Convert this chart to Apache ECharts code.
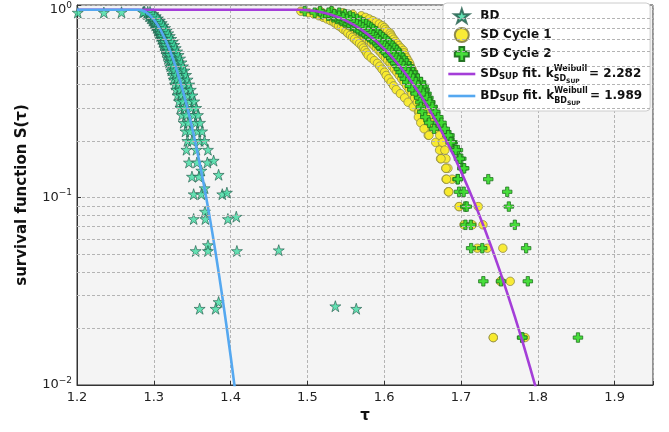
<!DOCTYPE html>
<html><head><meta charset="utf-8">
<script src="https://cdn.jsdelivr.net/npm/echarts@6/dist/echarts.min.js"></script>
<style>html,body{margin:0;padding:0;background:#fff}#c{width:669px;height:432px}</style>
</head><body><div id="c"></div>
<script>
// ---------- data ----------
const xTicks = [1.2, 1.3, 1.4, 1.5, 1.6, 1.7, 1.8, 1.9];
const yMinorLines = [0.02,0.03,0.04,0.05,0.06,0.07,0.08,0.09,0.2,0.3,0.4,0.5,0.6,0.7,0.8,0.9];

// BD (stars): survival levels and tau of four overlapping runs
const bdLevels = [0.975,0.95,0.925,0.9,0.875,0.85,0.825,0.8,0.775,0.75,0.725,0.7,0.675,0.65,0.625,0.6,0.575,0.55,0.525,0.5,0.475,0.45,0.425,0.4,0.375,0.35,0.325,0.3,0.275,0.25,0.225,0.2];
const bdRunA = [1.2871,1.2907,1.2936,1.2959,1.2981,1.3000,1.3018,1.3035,1.3051,1.3067,1.3082,1.3097,1.3112,1.3126,1.3141,1.3155,1.3170,1.3184,1.3199,1.3213,1.3228,1.3244,1.3259,1.3276,1.3292,1.3309,1.3328,1.3347,1.3367,1.3389,1.3412,1.3437];
const bdRunB = [1.2881,1.2919,1.2949,1.2974,1.2997,1.3018,1.3037,1.3056,1.3074,1.3091,1.3108,1.3124,1.3141,1.3157,1.3173,1.3189,1.3205,1.3221,1.3237,1.3253,1.3270,1.3287,1.3304,1.3322,1.3340,1.3359,1.3379,1.3400,1.3421,1.3445,1.3469,1.3496];
const bdRunC = [1.2921,1.2961,1.2993,1.3020,1.3045,1.3068,1.3089,1.3110,1.3130,1.3149,1.3168,1.3186,1.3205,1.3223,1.3241,1.3259,1.3277,1.3295,1.3313,1.3331,1.3350,1.3369,1.3388,1.3408,1.3428,1.3449,1.3471,1.3494,1.3517,1.3543,1.3569,1.3598];
const bdRunD = [1.2951,1.2992,1.3025,1.3053,1.3079,1.3103,1.3125,1.3147,1.3168,1.3188,1.3208,1.3227,1.3247,1.3266,1.3285,1.3304,1.3323,1.3342,1.3361,1.3380,1.3400,1.3420,1.3440,1.3461,1.3482,1.3504,1.3527,1.3551,1.3575,1.3602,1.3629,1.3659];
const bdExtraTau = [1.201,1.235,1.258,1.286,1.3425,1.3555,1.3705,1.3458,1.3562,1.3697,1.3779,1.3619,1.3497,1.3588,1.3844,1.3662,1.3519,1.3619,1.3892,1.3952,1.3666,1.3519,1.3671,1.3965,1.4074,1.3705,1.3545,1.3705,1.4082,1.4627,1.3844,1.3597,1.3805,1.5364,1.5636];
const bdExtraS   = [0.966,0.966,0.970,0.970,0.1795,0.1795,0.1795,0.1535,0.1535,0.1535,0.157,0.139,0.129,0.129,0.132,0.112,0.104,0.104,0.104,0.106,0.084,0.0767,0.0767,0.0767,0.0789,0.0557,0.0518,0.0518,0.0518,0.0523,0.0277,0.0255,0.0255,0.0263,0.0255];

// SD: survival levels shared by the runs
const sdLevels = [0.9821,0.9643,0.9464,0.9286,0.9107,0.8929,0.875,0.8571,0.8393,0.8214,0.8036,0.7857,0.7679,0.75,0.7321,0.7143,0.6964,0.6786,0.6607,0.6429,0.625,0.6071,0.5893,0.5714,0.5536,0.5357,0.5179,0.5,0.4821,0.4643,0.4464,0.4286,0.4107,0.3929,0.375,0.3571,0.3393,0.3214,0.3036,0.2857,0.2679,0.25,0.2321,0.2143,0.1964,0.1786,0.1607,0.1429,0.125,0.1071,0.0893,0.0714,0.0536,0.0357,0.0179];
// SD Cycle 1 (yellow circles)
const c1RunA = [1.4915,1.5015,1.5089,1.5152,1.5207,1.5256,1.5302,1.5345,1.5376,1.5405,1.5442,1.5468,1.5503,1.5527,1.5560,1.5588,1.5615,1.5646,1.5678,1.5709,1.5729,1.5750,1.5770,1.5791,1.5831,1.5871,1.5912,1.5943,1.5973,1.6005,1.6026,1.6058,1.6090,1.6123,1.6156,1.6211,1.6266,1.6311,1.6378,1.6446,1.6495,1.6526,1.6559,1.6573,1.6711,1.6741,1.6734,1.6802,1.6805,1.6835,1.6975,1.7038,1.7212,1.7516,1.7420];
const c1RunB = [1.5315,1.5465,1.5589,1.5702,1.5757,1.5806,1.5852,1.5895,1.5936,1.5975,1.6002,1.6018,1.6043,1.6077,1.6090,1.6103,1.6125,1.6146,1.6168,1.6189,1.6219,1.6250,1.6260,1.6271,1.6291,1.6311,1.6332,1.6343,1.6363,1.6380,1.6396,1.6408,1.6430,1.6443,1.6456,1.6481,1.6496,1.6481,1.6468,1.6456,1.6445,1.6476,1.6519,1.6583,1.6671,1.6721,1.6804,1.6830,1.6885,1.6840,1.7225,1.7148,1.7342,1.7641,1.7835];
const c1RunC = [1.5165,1.5195,1.5259,1.5312,1.5357,1.5396,1.5437,1.5475,1.5511,1.5547,1.5582,1.5618,1.5653,1.5687,1.5720,1.5748,1.5780,1.5811,1.5838,1.5869,1.5899,1.5930,1.5960,1.5986,1.6016,1.6046,1.6077,1.6103,1.6133,1.6165,1.6196,1.6228,1.6260,1.6293,1.6326,1.6361,1.6396,1.6431,1.6478,1.6526,1.6575,1.6626,1.6679,1.6723,1.6760,1.6790,1.6740,1.6805,1.6812,1.6840,1.6975,1.7286,1.7545,1.7516,1.7420];
// SD Cycle 2 (green plus)
const c2RunA = [1.4965,1.5095,1.5189,1.5272,1.5337,1.5386,1.5442,1.5485,1.5536,1.5575,1.5622,1.5658,1.5693,1.5737,1.5770,1.5803,1.5835,1.5876,1.5908,1.5929,1.5959,1.6000,1.6020,1.6051,1.6091,1.6111,1.6142,1.6173,1.6193,1.6215,1.6246,1.6268,1.6300,1.6333,1.6366,1.6411,1.6456,1.6471,1.6478,1.6496,1.6535,1.6586,1.6649,1.6823,1.6891,1.6931,1.6974,1.7017,1.6955,1.6975,1.7055,1.7058,1.7132,1.7291,1.7795];
const c2RunB = [1.5315,1.5415,1.5489,1.5552,1.5597,1.5646,1.5692,1.5725,1.5766,1.5800,1.5832,1.5858,1.5893,1.5917,1.5950,1.5983,1.6015,1.6046,1.6078,1.6109,1.6134,1.6165,1.6190,1.6211,1.6241,1.6261,1.6292,1.6323,1.6343,1.6375,1.6396,1.6438,1.6480,1.6513,1.6526,1.6551,1.6576,1.6601,1.6628,1.6656,1.6689,1.6701,1.6769,1.6850,1.6881,1.6960,1.7004,1.7032,1.6960,1.7035,1.7075,1.7128,1.7277,1.7521,1.7800];
const c2RunC = [1.5165,1.5275,1.5349,1.5412,1.5467,1.5516,1.5562,1.5605,1.5646,1.5685,1.5722,1.5758,1.5793,1.5827,1.5860,1.5893,1.5915,1.5946,1.5978,1.6009,1.6039,1.6070,1.6100,1.6131,1.6161,1.6191,1.6222,1.6253,1.6283,1.6315,1.6346,1.6378,1.6410,1.6443,1.6476,1.6511,1.6556,1.6591,1.6628,1.6666,1.6705,1.6746,1.6789,1.6833,1.6865,1.6931,1.6984,1.7042,1.7355,1.7602,1.7623,1.7701,1.7848,1.7870,1.8523];

// Weibull fit curves
const sdFitTau = [1.2,1.484,1.49,1.50,1.51,1.52,1.53,1.54,1.55,1.56,1.57,1.58,1.59,1.60,1.61,1.62,1.63,1.64,1.65,1.66,1.67,1.68,1.69,1.70,1.71,1.72,1.73,1.74,1.75,1.76,1.77,1.78,1.79,1.80,1.81];
const sdFitS   = [1,1,0.9994,0.9948,0.9843,0.9673,0.9436,0.9129,0.8758,0.8329,0.7847,0.7322,0.6765,0.6188,0.5601,0.5015,0.4442,0.3891,0.3370,0.2885,0.2441,0.2041,0.1686,0.1376,0.1109,0.0882,0.0693,0.0538,0.0412,0.0311,0.0232,0.01706,0.01239,0.00886,0.00625];
const bdFitTau = [1.2,1.28,1.285,1.29,1.295,1.30,1.305,1.31,1.315,1.32,1.325,1.33,1.335,1.34,1.345,1.35,1.355,1.36,1.365,1.37,1.375,1.38,1.385,1.39,1.395,1.40,1.405,1.41];
const bdFitS   = [1,1,0.9924,0.970,0.9343,0.8867,0.829,0.7638,0.6934,0.6203,0.5468,0.4750,0.4066,0.3431,0.2853,0.2337,0.1888,0.1502,0.1178,0.0910,0.0694,0.0521,0.0385,0.0281,0.0202,0.01432,0.00999,0.00687];

const names = ['BD','SD Cycle 1','SD Cycle 2','SD fit','BD fit'];

// ---------- build ----------
const zip = (xs, ys) => xs.map((x, i) => [x, ys[i]]);
const bdData = [].concat(zip(bdRunA, bdLevels), zip(bdRunB, bdLevels), zip(bdRunC, bdLevels), zip(bdRunD, bdLevels), zip(bdExtraTau, bdExtraS));
const c1Data = [].concat(zip(c1RunA, sdLevels), zip(c1RunB, sdLevels), zip(c1RunC, sdLevels));
const c2Data = [].concat(zip(c2RunA, sdLevels), zip(c2RunB, sdLevels), zip(c2RunC, sdLevels));

const STAR = 'path://M50,0 L61.8,35.4 L99,35.4 L69,57.3 L80.9,92.7 L50,70.8 L19.1,92.7 L31,57.3 L1,35.4 L38.2,35.4 Z';
const PLUS = 'path://M33,0 H67 V33 H100 V67 H67 V100 H33 V67 H0 V33 H33 Z';
const FONT = 'DejaVu Sans';
const gridDash = {color: '#b4b4b4', type: [3, 2], width: 1};
const hiddenSym = {color: 'rgba(0,0,0,0)', borderColor: 'rgba(0,0,0,0)', borderWidth: 0};
const LF = 12;
const SD_COL = '#a43ed8', BD_COL = '#55a8f0';

const chart = echarts.init(document.getElementById('c'), null, {renderer: 'canvas'});
chart.setOption({
  animation: false,
  textStyle: {fontFamily: FONT},
  grid: {left: 77, right: 16, top: 5, bottom: 47, show: true, backgroundColor: '#f4f4f4', borderColor: '#333', borderWidth: 1},
  xAxis: {
    type: 'value', min: 1.2, max: 1.95, interval: 0.1,
    name: 'τ', nameLocation: 'middle', nameGap: 22,
    nameTextStyle: {fontSize: 15, fontWeight: 'bold', color: '#111', fontFamily: FONT},
    axisLine: {onZero: false, lineStyle: {color: '#333'}},
    axisTick: {inside: true, length: 4, lineStyle: {color: '#333'}},
    axisLabel: {fontSize: 13, color: '#222', margin: 6, fontFamily: FONT,
      formatter: v => { const r = Math.round(v * 10); return Math.abs(v * 10 - r) < 1e-6 && xTicks.indexOf(r / 10) >= 0 ? (r / 10).toFixed(1) : ''; }},
    splitLine: {show: true, lineStyle: gridDash}
  },
  yAxis: {
    type: 'log', logBase: 10, min: 0.01, max: 1.06,
    name: 'survival function S(τ)', nameLocation: 'middle', nameGap: 47,
    nameTextStyle: {fontSize: 15, fontWeight: 'bold', color: '#111', fontFamily: FONT},
    axisLine: {lineStyle: {color: '#333'}},
    axisTick: {inside: true, length: 4, lineStyle: {color: '#333'}},
    axisLabel: {margin: 5, fontFamily: FONT,
      formatter: v => { const l = Math.log10(v), e = Math.round(l); if (Math.abs(l - e) > 1e-6) return ''; return '{b|10}{sup|' + (e === 0 ? '0' : '\u2212' + (-e)) + '}'; },
      rich: {b: {fontSize: 13, color: '#222', fontFamily: FONT}, sup: {fontSize: 9, color: '#222', padding: [0, 0, 9, 0], fontFamily: FONT}}},
    splitLine: {show: true, lineStyle: gridDash}
  },
  legend: {
    orient: 'vertical', left: 443, top: 3, padding: [5, 8, 5, 4], itemGap: 3,
    backgroundColor: '#ffffff', borderColor: '#cccccc', borderWidth: 1, borderRadius: 4,
    itemWidth: 27, itemHeight: 14,
    lineStyle: {width: 2.6},
    data: [{name: names[0], icon: STAR}, {name: names[1], icon: 'circle'}, {name: names[2], icon: PLUS},
           {name: names[3], itemStyle: hiddenSym, lineStyle: {color: SD_COL, width: 2.6}},
           {name: names[4], itemStyle: hiddenSym, lineStyle: {color: BD_COL, width: 2.6}}],
    textStyle: {fontSize: LF, fontWeight: 'bold', color: '#111', fontFamily: FONT,
      rich: {
        b: {fontSize: LF, fontWeight: 'bold', color: '#111', fontFamily: FONT},
        s: {fontSize: 8.5, fontWeight: 'bold', color: '#111', padding: [6, 0, 0, 0], fontFamily: FONT},
        w: {fontSize: 8, fontWeight: 'bold', color: '#111', padding: [0, 0, 10, 0], width: 0, fontFamily: FONT},
        s2: {fontSize: 8, fontWeight: 'bold', color: '#111', padding: [9, 0, 0, 0], fontFamily: FONT},
        s3: {fontSize: 6, fontWeight: 'bold', color: '#111', padding: [14, 0, 0, 0], width: 23, fontFamily: FONT}
      }},
    formatter: n => {
      if (n === 'SD fit') return '{b|SD}{s|SUP}{b| fit. k}{w|Weibull}{s2|SD}{s3|SUP}{b|= 2.282}';
      if (n === 'BD fit') return '{b|BD}{s|SUP}{b| fit. k}{w|Weibull}{s2|BD}{s3|SUP}{b|= 1.989}';
      return n;
    }
  },
  series: [
    {type: 'line', name: '_grid', data: [], silent: true, z: 1,
      markLine: {silent: true, symbol: 'none', label: {show: false}, lineStyle: gridDash, animation: false,
        data: yMinorLines.map(v => ({yAxis: v}))}},
    {type: 'scatter', name: names[0], data: bdData, symbol: STAR, symbolSize: 11, z: 3,
      itemStyle: {color: '#40dca2', borderColor: '#1f5a48', borderWidth: 0.8}},
    {type: 'scatter', name: names[1], data: c1Data, symbol: 'circle', symbolSize: 8.5, z: 3,
      itemStyle: {color: '#f8ea2c', borderColor: '#8a8648', borderWidth: 0.8, opacity: 0.95}},
    {type: 'scatter', name: names[2], data: c2Data, symbol: PLUS, symbolSize: 9.5, z: 3,
      itemStyle: {color: '#3ddc30', borderColor: '#1d6e1d', borderWidth: 0.8, opacity: 0.95}},
    {type: 'line', name: names[3], data: zip(sdFitTau, sdFitS), symbol: 'none', z: 4,
      lineStyle: {color: SD_COL, width: 2.6}, itemStyle: {color: SD_COL}},
    {type: 'line', name: names[4], data: zip(bdFitTau, bdFitS), symbol: 'none', z: 4,
      lineStyle: {color: BD_COL, width: 2.6}, itemStyle: {color: BD_COL}}
  ]
});
</script></body></html>
